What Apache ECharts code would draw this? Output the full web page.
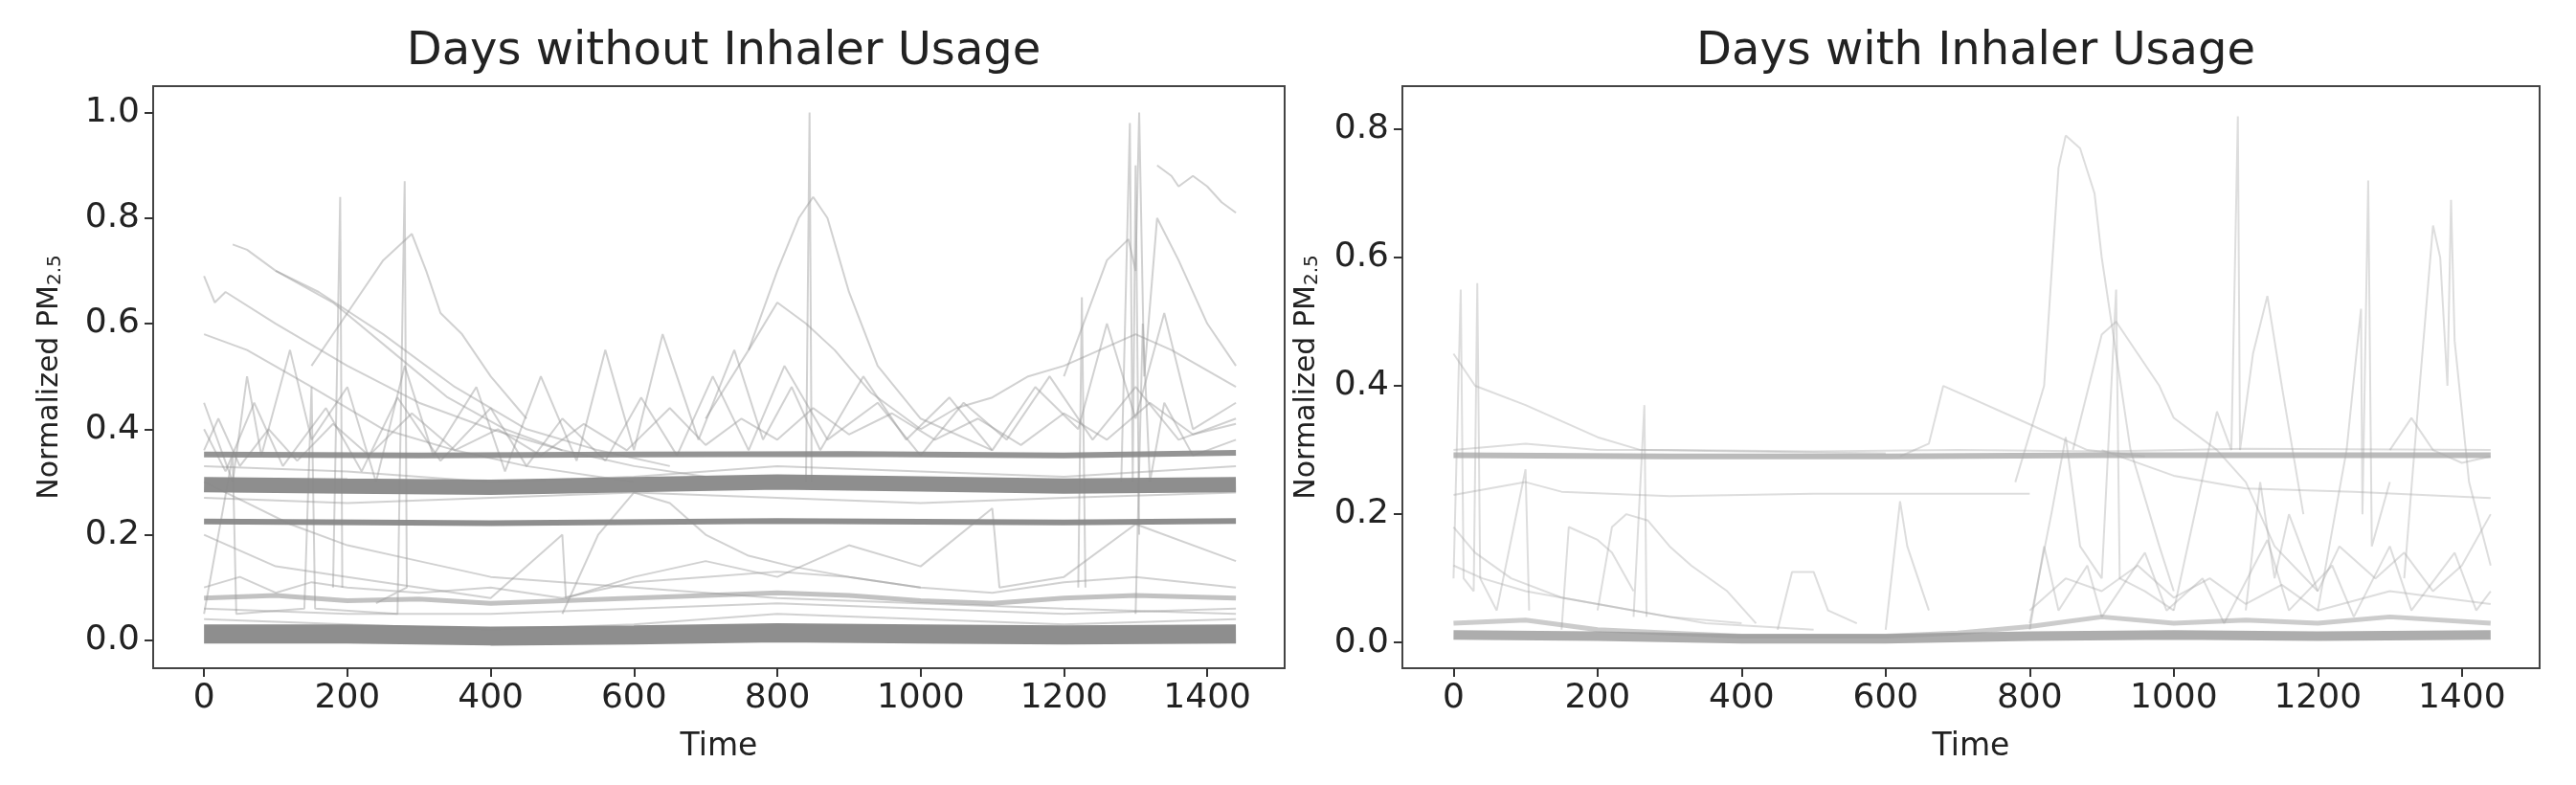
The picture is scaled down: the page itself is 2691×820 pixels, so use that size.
<!DOCTYPE html>
<html><head><meta charset="utf-8">
<script src="https://cdn.jsdelivr.net/npm/echarts@6/dist/echarts.min.js"></script>
<style>html,body{margin:0;background:#fff}#c{width:2691px;height:820px}</style>
</head><body><div id="c"></div>
<script>
const titles = ['Days without Inhaler Usage', 'Days with Inhaler Usage'];
const xTicks = [0, 200, 400, 600, 800, 1000, 1200, 1400];
const yTicksLeft = [0, 0.2, 0.4, 0.6, 0.8, 1.0];
const yTicksRight = [0, 0.2, 0.4, 0.6, 0.8];

// Left panel: dense bands
const leftBands = [
  [[0,0.295],[200,0.292],[400,0.290],[600,0.295],[800,0.300],[1000,0.296],[1200,0.292],[1440,0.295]],
  [[0,0.352],[300,0.350],[600,0.352],[900,0.353],[1200,0.350],[1440,0.355]],
  [[0,0.225],[400,0.222],[800,0.226],[1200,0.223],[1440,0.226]],
  [[0,0.012],[200,0.012],[400,0.008],[600,0.010],[800,0.014],[1000,0.012],[1200,0.010],[1440,0.012]],
  [[0,0.080],[100,0.085],[200,0.075],[300,0.078],[400,0.070],[500,0.075],[600,0.080],[700,0.085],[800,0.090],[900,0.085],[1000,0.075],[1100,0.070],[1200,0.080],[1300,0.085],[1440,0.080]]
];
const leftLines = [
  [[0,0.69],[15,0.64],[30,0.66],[100,0.60],[200,0.52],[300,0.45],[400,0.40],[500,0.36],[600,0.33],[700,0.31]],
  [[0,0.58],[60,0.55],[150,0.48],[250,0.40],[350,0.36],[450,0.33],[600,0.30]],
  [[40,0.75],[60,0.74],[100,0.70],[180,0.64],[260,0.55],[340,0.46],[420,0.40],[500,0.36]],
  [[150,0.52],[200,0.62],[250,0.72],[290,0.77],[310,0.70],[330,0.62],[360,0.58],[400,0.50],[450,0.42]],
  [[100,0.70],[160,0.66],[250,0.58],[350,0.48],[450,0.40],[550,0.36],[650,0.33]],
  [[700,0.42],[760,0.55],[800,0.70],[830,0.80],[850,0.84],[870,0.80],[900,0.66],[940,0.52],[1000,0.42],[1100,0.36]],
  [[760,0.55],[800,0.64],[840,0.60],[880,0.55],[930,0.47],[1000,0.40]],
  [[840,0.3],[845,1.0],[848,0.3]],
  [[1200,0.5],[1260,0.72],[1290,0.76],[1300,0.70],[1305,1.0],[1312,0.5],[1330,0.80],[1360,0.72],[1400,0.60],[1440,0.52]],
  [[1280,0.3],[1292,0.98],[1296,0.3],[1300,0.9],[1305,0.2]],
  [[1330,0.90],[1350,0.88],[1360,0.86],[1380,0.88],[1400,0.86],[1420,0.83],[1440,0.81]],
  [[1000,0.40],[1050,0.44],[1100,0.46],[1150,0.50],[1200,0.52],[1250,0.55],[1300,0.58],[1350,0.55],[1440,0.48]],
  [[0,0.45],[40,0.30],[60,0.50],[80,0.35],[120,0.55],[150,0.38],[200,0.48],[240,0.30],[280,0.52],[320,0.35],[380,0.48],[420,0.32],[470,0.50],[520,0.34],[560,0.55],[600,0.36],[640,0.58],[690,0.38],[740,0.55],[780,0.38],[820,0.48],[860,0.36],[920,0.50],[980,0.38],[1040,0.46],[1100,0.36],[1160,0.48],[1220,0.40],[1260,0.60],[1300,0.42],[1340,0.62],[1380,0.40],[1440,0.45]],
  [[0,0.40],[30,0.32],[70,0.45],[110,0.33],[170,0.44],[220,0.32],[270,0.46],[330,0.34],[400,0.44],[450,0.33],[500,0.42],[560,0.34],[610,0.46],[660,0.35],[710,0.50],[760,0.36],[810,0.52],[870,0.38],[940,0.45],[1000,0.35],[1060,0.45],[1120,0.38],[1180,0.50],[1240,0.38],[1300,0.48],[1360,0.38],[1440,0.42]],
  [[0,0.36],[20,0.42],[50,0.33],[90,0.40],[130,0.34],[180,0.41],[230,0.35],[290,0.43],[350,0.36],[410,0.40],[470,0.35],[530,0.41],[590,0.36],[650,0.44],[700,0.37],[750,0.42],[800,0.38],[850,0.44],[900,0.39],[960,0.43],[1020,0.38],[1080,0.42],[1140,0.37],[1200,0.43],[1260,0.38],[1320,0.45],[1380,0.39],[1440,0.41]],
  [[0,0.20],[100,0.14],[200,0.12],[300,0.10],[400,0.08],[500,0.20],[505,0.08],[600,0.12],[700,0.15],[800,0.12],[900,0.18],[1000,0.14],[1100,0.25],[1110,0.10],[1200,0.12],[1300,0.22],[1440,0.15]],
  [[0,0.30],[60,0.26],[120,0.22],[200,0.18],[300,0.15],[400,0.12],[600,0.10],[800,0.08],[1000,0.07],[1200,0.06],[1440,0.05]],
  [[500,0.05],[550,0.20],[600,0.28],[650,0.26],[700,0.20],[760,0.16],[820,0.14],[900,0.12],[1000,0.10]],
  [[0,0.05],[40,0.35],[45,0.05],[140,0.06],[150,0.48],[155,0.06],[270,0.05],[280,0.87],[283,0.10],[240,0.07]],
  [[180,0.10],[190,0.84],[193,0.10]],
  [[1220,0.10],[1225,0.65],[1230,0.10]],
  [[0,0.33],[200,0.32],[400,0.30],[600,0.31],[800,0.33],[1000,0.32],[1200,0.31],[1440,0.33]],
  [[0,0.27],[200,0.26],[400,0.27],[600,0.28],[800,0.27],[1000,0.26],[1200,0.27],[1440,0.28]],
  [[0,0.04],[200,0.03],[400,0.02],[600,0.03],[800,0.05],[1000,0.04],[1200,0.03],[1440,0.04]],
  [[0,0.06],[200,0.05],[400,0.05],[600,0.06],[800,0.07],[1000,0.06],[1200,0.05],[1440,0.06]],
  [[0,0.10],[50,0.12],[100,0.09],[150,0.11],[200,0.10],[300,0.09],[400,0.10],[500,0.08],[600,0.11],[700,0.12],[800,0.13],[900,0.12],[1000,0.10],[1100,0.09],[1200,0.11],[1300,0.12],[1440,0.10]],
  [[1300,0.05],[1310,0.60],[1320,0.30],[1340,0.45],[1380,0.35],[1440,0.38]]
];

// Right panel
const rightBands = [
  [[0,0.292],[300,0.290],[600,0.290],[900,0.292],[1200,0.292],[1440,0.292]],
  [[0,0.012],[200,0.010],[400,0.006],[600,0.006],[800,0.010],[1000,0.012],[1200,0.010],[1440,0.012]],
  [[0,0.03],[100,0.035],[200,0.02],[300,0.015],[400,0.01],[600,0.01],[700,0.015],[800,0.025],[900,0.04],[1000,0.03],[1100,0.035],[1200,0.03],[1300,0.04],[1440,0.03]]
];
const rightLines = [
  [[0,0.45],[30,0.40],[100,0.37],[200,0.32],[260,0.30],[400,0.298],[600,0.295]],
  [[0,0.23],[100,0.25],[150,0.235],[300,0.228],[500,0.232],[800,0.232]],
  [[900,0.30],[1000,0.26],[1100,0.24],[1250,0.235],[1440,0.225]],
  [[620,0.29],[660,0.31],[680,0.40],[720,0.38],[800,0.34],[880,0.30],[960,0.29]],
  [[780,0.25],[820,0.40],[840,0.74],[850,0.79],[870,0.77],[890,0.70],[900,0.60],[920,0.45],[940,0.30],[980,0.15],[1000,0.08]],
  [[860,0.30],[900,0.48],[920,0.50],[950,0.45],[980,0.40],[1000,0.35],[1060,0.30],[1100,0.25],[1140,0.15],[1200,0.08]],
  [[0,0.10],[10,0.55],[14,0.10],[28,0.08],[33,0.56],[37,0.10],[60,0.05],[100,0.27],[105,0.05]],
  [[200,0.05],[220,0.18],[240,0.20],[270,0.19],[300,0.15],[330,0.12],[380,0.08],[420,0.03]],
  [[150,0.02],[160,0.18],[200,0.16],[220,0.14],[250,0.08]],
  [[450,0.02],[470,0.11],[500,0.11],[520,0.05],[560,0.03]],
  [[600,0.02],[620,0.22],[630,0.15],[660,0.05]],
  [[250,0.04],[265,0.37],[268,0.04]],
  [[1000,0.05],[1060,0.36],[1080,0.30],[1089,0.82],[1092,0.30],[1110,0.45],[1130,0.54],[1150,0.40],[1180,0.20]],
  [[1200,0.05],[1240,0.30],[1260,0.52],[1262,0.20],[1270,0.72],[1275,0.15],[1300,0.25]],
  [[1320,0.10],[1340,0.38],[1360,0.65],[1370,0.60],[1380,0.40],[1385,0.69],[1390,0.47],[1410,0.25],[1440,0.12]],
  [[800,0.03],[830,0.20],[850,0.32],[870,0.15],[900,0.10],[920,0.55],[925,0.10],[960,0.08],[1000,0.05]],
  [[1300,0.30],[1330,0.35],[1360,0.30],[1400,0.28],[1440,0.29]],
  [[0,0.18],[30,0.14],[80,0.10],[150,0.07],[250,0.05],[350,0.03],[500,0.02]],
  [[0,0.12],[40,0.10],[100,0.08],[200,0.06],[300,0.04],[400,0.03]],
  [[1100,0.05],[1120,0.25],[1140,0.10],[1160,0.20],[1200,0.08],[1230,0.15],[1280,0.10],[1320,0.14],[1360,0.08],[1400,0.12],[1440,0.20]],
  [[800,0.05],[850,0.10],[900,0.08],[950,0.12],[1000,0.07],[1050,0.10],[1100,0.06],[1150,0.09],[1200,0.05],[1300,0.08],[1440,0.06]],
  [[800,0.02],[820,0.15],[840,0.05],[880,0.12],[900,0.04],[960,0.14],[990,0.05],[1040,0.10],[1070,0.03],[1130,0.16],[1160,0.05],[1220,0.12],[1250,0.04],[1300,0.15],[1330,0.05],[1390,0.14],[1420,0.05],[1440,0.08]],
  [[0,0.30],[100,0.31],[200,0.30],[300,0.30],[500,0.298],[700,0.30],[900,0.298],[1100,0.302],[1440,0.30]]
];

const font = 'DejaVu Sans';
const grids = [
  {left:160, right:2691-1342, top:90, bottom:820-698},
  {left:1465, right:2691-2653, top:90, bottom:820-698}
];
const yRanges = [[-0.053,1.05,yTicksLeft],[-0.04,0.867,yTicksRight]];
const tickStyle = {show:true,inside:false,length:9,lineStyle:{color:'#333',width:2}};
function xAxis(i){return {gridIndex:i,type:'value',min:-71,max:1508,position:'bottom',
  axisLine:{show:false,onZero:false},axisTick:Object.assign({customValues:xTicks},tickStyle),
  splitLine:{show:false},
  axisLabel:{fontFamily:font,fontSize:36,color:'#222',margin:14,customValues:xTicks,formatter:v=>String(v)},
  name:'Time',nameLocation:'middle',nameGap:66,nameTextStyle:{fontFamily:font,fontSize:33,color:'#222'}};}
function yAxis(i){const r=yRanges[i];return {gridIndex:i,type:'value',min:r[0],max:r[1],position:'left',
  axisLine:{show:false,onZero:false},axisTick:Object.assign({customValues:r[2]},tickStyle),
  splitLine:{show:false},
  axisLabel:{fontFamily:font,fontSize:36,color:'#222',margin:14,customValues:r[2],formatter:v=>v.toFixed(1)},
  name:'{a|Normalized PM}{b|2.5}',nameLocation:'middle',nameGap:i===0?92:84,
  nameTextStyle:{rich:{a:{fontFamily:font,fontSize:30,color:'#222'},b:{fontFamily:font,fontSize:20,color:'#222',padding:[12,0,0,0]}}}};}

const series=[];
function add(arr,gi,color,width,op){arr.forEach(d=>series.push({type:'line',xAxisIndex:gi,yAxisIndex:gi,data:d,showSymbol:false,silent:true,
  lineStyle:{color:color,width:width,opacity:op}}));}
add(leftLines,0,'#999',2,0.45);
add([leftBands[0]],0,'#888',16,0.95);
add([leftBands[1]],0,'#888',6,0.9);
add([leftBands[2]],0,'#888',6,0.95);
add([leftBands[3]],0,'#888',20,0.95);
add([leftBands[4]],0,'#999',5,0.6);
add(rightLines,1,'#aaa',2,0.4);
add([rightBands[0]],1,'#aaa',6,0.8);
add([rightBands[1]],1,'#999',10,0.8);
add([rightBands[2]],1,'#999',5,0.5);

const chart=echarts.init(document.getElementById('c'));
chart.setOption({animation:false,backgroundColor:'#fff',
  title:titles.map((t,i)=>({text:t,left:i===0?751:2059,top:26,textAlign:'center',
    textStyle:{fontFamily:font,fontSize:48,fontWeight:'normal',color:'#222'}})),
  grid:grids.map(g=>Object.assign({show:true,borderColor:'#444',borderWidth:2,backgroundColor:'#fff'},g)),
  xAxis:[xAxis(0),xAxis(1)],yAxis:[yAxis(0),yAxis(1)],series});
</script></body></html>
